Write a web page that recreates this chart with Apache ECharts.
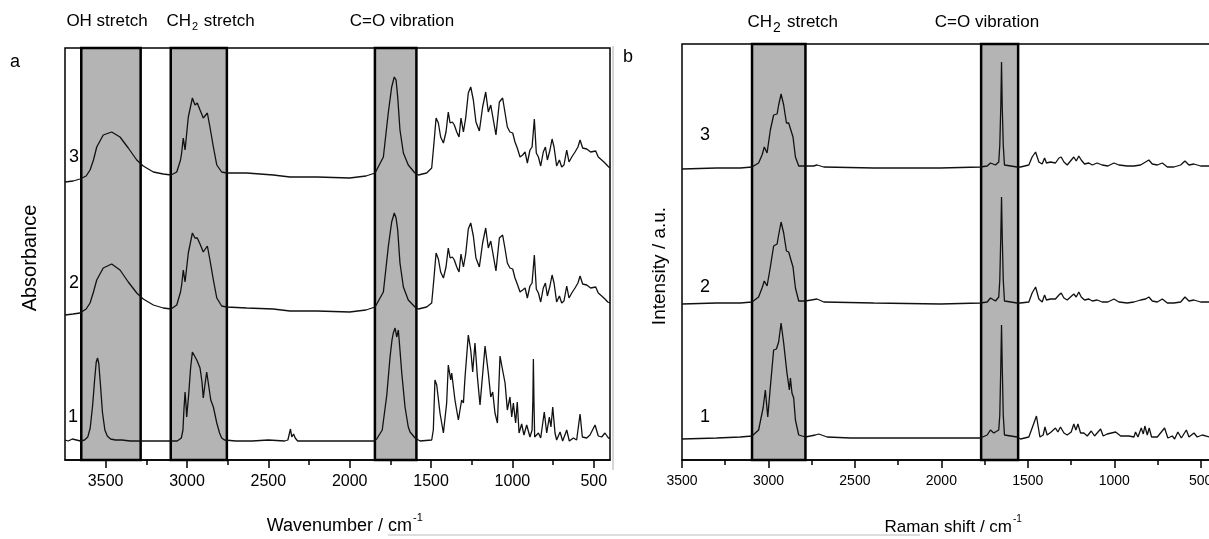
<!DOCTYPE html>
<html>
<head>
<meta charset="utf-8">
<script src="https://cdn.jsdelivr.net/npm/echarts@6/dist/echarts.min.js"></script>
<style>
  html, body { margin: 0; padding: 0; background: #fff; }
  #chart { width: 1209px; height: 539px; }
</style>
</head>
<body>
<div id="chart"></div>
<script>
// ---- data: [wavenumber (cm-1), offset signal (a.u.)] ----
var irTrace1 = [[3750,20],[3730,19],[3705,21],[3680,20],[3655,19],[3630,20],[3610,23],[3595,32],[3580,55],[3568,80],[3558,98],[3550,102],[3542,96],[3532,75],[3520,48],[3505,30],[3490,24],[3470,21],[3440,20],[3400,20],[3350,19],[3300,19],[3200,19],[3120,19],[3060,19],[3035,22],[3025,30],[3019,50],[3012,68],[3006,55],[3002,43],[2990,65],[2978,92],[2967,108],[2955,107],[2940,100],[2920,92],[2908,78],[2900,62],[2890,75],[2879,88],[2869,87],[2854,60],[2838,53],[2817,37],[2800,27],[2787,22],[2770,20],[2700,19],[2600,19],[2500,20],[2400,19],[2380,20],[2370,27],[2364,31],[2356,23],[2345,26],[2335,22],[2320,19],[2200,19],[2000,19],[1900,19],[1850,19],[1834,21],[1800,30],[1772,65],[1752,103],[1740,120],[1732,127],[1721,132],[1711,123],[1701,130],[1691,110],[1680,87],[1660,53],[1640,33],[1629,28],[1598,22],[1568,19],[1496,20],[1486,30],[1476,80],[1472,82],[1465,75],[1455,73],[1445,47],[1424,27],[1404,57],[1394,95],[1379,80],[1373,87],[1353,60],[1332,40],[1312,60],[1301,57],[1291,83],[1271,125],[1256,110],[1244,88],[1230,117],[1215,83],[1199,55],[1168,114],[1148,87],[1133,63],[1121,68],[1107,47],[1092,37],[1076,104],[1066,95],[1056,93],[1045,77],[1031,50],[1015,63],[1004,43],[994,57],[980,37],[970,58],[959,27],[943,36],[929,25],[912,35],[892,23],[879,30],[874,60],[871,101],[867,55],[863,23],[840,27],[826,22],[804,48],[789,27],[773,43],[763,33],[752,53],[738,27],[728,20],[707,28],[691,19],[666,30],[650,19],[625,22],[605,20],[584,46],[570,23],[543,22],[523,25],[492,35],[472,24],[451,23],[431,27],[410,22],[400,22]];

var irTrace2 = [[3750,145],[3700,146],[3658,147],[3620,151],[3596,157],[3575,168],[3555,180],[3515,192],[3463,196],[3412,190],[3361,178],[3309,167],[3269,161],[3207,155],[3146,152],[3098,151],[3063,155],[3040,168],[3033,175],[3023,190],[3012,178],[2992,207],[2967,227],[2951,222],[2937,222],[2920,216],[2900,208],[2875,214],[2859,200],[2838,180],[2817,162],[2787,154],[2756,153],[2633,152],[2470,151],[2367,149],[2200,149],[2000,148],[1900,150],[1844,153],[1793,168],[1763,213],[1742,238],[1726,247],[1715,242],[1705,230],[1691,197],[1670,173],[1640,160],[1599,153],[1578,151],[1527,153],[1496,157],[1482,182],[1469,207],[1455,201],[1441,188],[1424,182],[1408,193],[1394,212],[1383,202],[1369,203],[1357,200],[1342,193],[1328,188],[1316,206],[1301,193],[1287,206],[1271,231],[1256,237],[1240,224],[1224,202],[1203,193],[1183,217],[1164,232],[1148,212],[1133,219],[1117,204],[1101,189],[1080,222],[1070,224],[1060,225],[1045,211],[1031,197],[1015,192],[998,191],[984,182],[970,176],[953,168],[937,170],[922,172],[908,162],[892,174],[879,177],[865,205],[853,171],[840,167],[826,158],[810,172],[797,177],[785,164],[769,174],[756,185],[744,177],[728,158],[711,164],[697,157],[683,159],[666,174],[652,162],[635,167],[615,172],[597,177],[584,184],[568,176],[543,175],[519,172],[488,173],[472,167],[451,164],[431,161],[414,158],[400,157]];

var irTrace3 = [[3750,278],[3700,279],[3658,281],[3620,284],[3596,290],[3575,300],[3555,313],[3515,325],[3463,328],[3412,323],[3361,312],[3309,300],[3269,294],[3207,288],[3146,286],[3098,285],[3063,288],[3040,300],[3033,307],[3023,322],[3012,310],[2992,343],[2967,362],[2951,355],[2937,357],[2920,350],[2900,342],[2875,347],[2859,333],[2838,313],[2817,295],[2787,288],[2756,287],[2633,287],[2470,285],[2367,283],[2200,283],[2000,282],[1900,284],[1844,287],[1793,303],[1763,347],[1742,373],[1726,383],[1715,380],[1705,363],[1691,330],[1670,307],[1640,295],[1599,287],[1578,285],[1527,287],[1496,292],[1482,317],[1469,342],[1455,337],[1441,323],[1424,317],[1408,328],[1394,348],[1383,337],[1369,338],[1357,335],[1342,328],[1328,323],[1316,342],[1301,328],[1287,342],[1271,367],[1256,373],[1240,360],[1224,338],[1203,329],[1183,353],[1164,368],[1148,348],[1133,355],[1117,340],[1101,325],[1080,358],[1070,360],[1060,362],[1045,347],[1031,333],[1015,328],[998,327],[984,318],[970,312],[953,303],[937,305],[922,308],[908,297],[892,310],[879,313],[865,341],[853,307],[840,303],[826,294],[810,308],[797,313],[785,300],[769,310],[756,321],[744,313],[728,294],[711,300],[697,293],[683,295],[666,310],[652,298],[635,303],[615,308],[597,313],[584,320],[568,312],[543,311],[519,308],[488,309],[472,303],[451,300],[431,297],[414,294],[400,292]];

var ramanTrace1 = [[3500,21],[3300,22],[3163,23],[3095,24],[3057,30],[3031,52],[3018,70],[3004,43],[2989,73],[2970,110],[2954,111],[2941,118],[2927,137],[2912,117],[2893,87],[2879,70],[2873,82],[2864,67],[2854,62],[2844,40],[2825,25],[2786,23],[2729,25],[2709,26],[2661,23],[2526,22],[2198,22],[1774,22],[1735,25],[1716,30],[1697,27],[1668,30],[1662,45],[1656,95],[1652,135],[1648,95],[1642,45],[1635,25],[1562,23],[1542,21],[1494,23],[1475,32],[1450,44],[1430,23],[1411,25],[1401,33],[1388,25],[1365,28],[1340,32],[1326,28],[1311,33],[1291,27],[1272,25],[1249,28],[1234,36],[1222,30],[1210,36],[1195,27],[1176,27],[1156,24],[1133,29],[1114,24],[1079,31],[1064,24],[1041,26],[992,28],[963,24],[915,24],[886,23],[877,28],[863,23],[844,32],[832,26],[823,34],[809,25],[798,32],[784,23],[751,23],[709,32],[690,22],[664,24],[651,21],[632,28],[612,22],[583,30],[568,23],[539,27],[520,23],[491,25],[448,23],[400,23]];

var ramanTrace2 = [[3500,156],[3300,157],[3163,157],[3095,158],[3057,163],[3037,172],[3024,179],[3008,174],[2989,193],[2970,214],[2960,212],[2950,216],[2941,225],[2927,238],[2912,227],[2896,209],[2883,208],[2873,207],[2858,193],[2844,172],[2825,159],[2786,159],[2719,161],[2680,158],[2391,157],[2005,156],[1774,157],[1735,158],[1716,162],[1687,159],[1668,163],[1662,180],[1656,225],[1652,263],[1648,225],[1642,180],[1635,159],[1562,157],[1542,157],[1494,158],[1475,167],[1455,173],[1436,161],[1417,158],[1403,165],[1392,160],[1369,161],[1340,161],[1320,165],[1307,167],[1291,162],[1272,160],[1253,163],[1234,166],[1220,163],[1205,168],[1191,163],[1172,160],[1147,161],[1127,159],[1099,160],[1070,158],[1037,158],[1002,161],[973,158],[925,157],[886,158],[848,160],[819,161],[800,163],[780,159],[751,158],[722,161],[693,157],[655,157],[616,158],[591,163],[568,159],[539,160],[501,158],[448,158],[400,158]];

var ramanTrace3 = [[3500,291],[3300,292],[3163,292],[3095,293],[3057,297],[3037,305],[3024,313],[3008,307],[2989,330],[2970,345],[2960,343],[2950,346],[2941,355],[2927,366],[2912,355],[2896,337],[2883,337],[2873,339],[2858,323],[2844,303],[2825,294],[2786,294],[2740,294],[2719,295],[2680,293],[2391,292],[2005,292],[1774,293],[1735,294],[1716,297],[1687,295],[1668,298],[1662,315],[1656,355],[1652,398],[1648,355],[1642,315],[1635,295],[1562,293],[1542,293],[1494,295],[1475,303],[1455,308],[1436,298],[1417,296],[1403,302],[1392,297],[1369,298],[1340,297],[1320,302],[1307,303],[1291,298],[1272,295],[1253,299],[1234,303],[1220,299],[1205,304],[1191,300],[1172,296],[1147,297],[1127,295],[1099,297],[1070,295],[1037,294],[1002,297],[973,295],[925,294],[886,294],[848,295],[819,298],[800,300],[780,296],[751,295],[722,297],[693,293],[655,293],[616,295],[591,299],[568,295],[539,296],[501,294],[448,294],[400,294]];

// shaded regions (cm-1)
var irBands = [[3650, 3285], [3100, 2755], [1845, 1590]];
var ramanBands = [[3095, 2786], [1770, 1556]];

// axis ticks
var majorTicks = [3500, 3000, 2500, 2000, 1500, 1000, 500];
var minorTicks = [3250, 2750, 2250, 1750, 1250, 750];

var FONT = '"Liberation Sans", Arial, sans-serif';

var myChart = echarts.init(document.getElementById('chart'));

function bandArea(bands) {
    return {
        silent: true,
        itemStyle: { color: '#b4b4b4', borderColor: '#000', borderWidth: 2.5 },
        data: bands.map(function (b) { return [{ xAxis: b[0] }, { xAxis: b[1] }]; })
    };
}

function trace(data, xi, yi, area) {
    var s = {
        type: 'line',
        data: data,
        xAxisIndex: xi,
        yAxisIndex: yi,
        showSymbol: false,
        symbol: 'none',
        silent: true,
        z: 3,
        lineStyle: { color: '#111', width: 1.3 }
    };
    if (area) s.markArea = area;
    return s;
}

function majorAxis(grid, min, max, fs) {
    return {
        gridIndex: grid, type: 'value', inverse: true, min: min, max: max,
        position: 'bottom',
        axisLine: { show: true, onZero: false, lineStyle: { color: '#000', width: 1.5 } },
        axisTick: { show: true, customValues: majorTicks, length: 8, lineStyle: { color: '#000', width: 1.5 } },
        axisLabel: {
            customValues: majorTicks, fontSize: fs, fontFamily: FONT, color: '#000', margin: 14,
            hideOverlap: false,
            formatter: function (v) { return String(v); }
        },
        splitLine: { show: false }
    };
}

function minorAxis(grid, min, max) {
    return {
        gridIndex: grid, type: 'value', inverse: true, min: min, max: max,
        position: 'bottom',
        axisLine: { show: false },
        axisTick: { show: true, customValues: minorTicks, length: 5, lineStyle: { color: '#000', width: 1.5 } },
        axisLabel: { show: false },
        splitLine: { show: false }
    };
}

function txt(s, x, y, size, extra) {
    var e = {
        type: 'text', x: x, y: y, silent: true,
        style: { text: s, fontSize: size, fontFamily: FONT, fill: '#000', align: 'center', verticalAlign: 'middle' }
    };
    if (extra) {
        for (var k in extra) e.style[k] = extra[k];
    }
    return e;
}

var option = {
    animation: false,
    backgroundColor: '#fff',
    grid: [
        { left: 65, top: 48, width: 545, height: 412, show: true, borderColor: '#000', borderWidth: 1.5,
          containLabel: false, outerBoundsMode: 'none' },
        { left: 682, top: 44, width: 536, height: 416, show: true, borderColor: '#000', borderWidth: 1.5,
          containLabel: false, outerBoundsMode: 'none' }
    ],
    xAxis: [
        majorAxis(0, 400, 3750, 16),
        minorAxis(0, 400, 3750),
        majorAxis(1, 400, 3500, 14),
        minorAxis(1, 400, 3500)
    ],
    yAxis: [
        { gridIndex: 0, type: 'value', min: 0, max: 412, show: false },
        { gridIndex: 1, type: 'value', min: 0, max: 416, show: false }
    ],
    series: [
        trace(irTrace1, 0, 0, bandArea(irBands)),
        trace(irTrace2, 0, 0),
        trace(irTrace3, 0, 0),
        trace(ramanTrace1, 2, 1, bandArea(ramanBands)),
        trace(ramanTrace2, 2, 1),
        trace(ramanTrace3, 2, 1)
    ],
    graphic: {
        elements: [
            // panel a
            txt('a', 15, 62, 18),
            txt('OH stretch', 107, 21, 17),
            txt('CH', 191, 21, 17, { align: 'right' }),
            txt('2', 195, 27, 11),
            txt(' stretch', 199, 21, 17, { align: 'left' }),
            txt('C=O vibration', 402, 21, 17),
            txt('3', 74, 157, 18),
            txt('2', 74, 283, 18),
            txt('1', 73, 417, 18),
            {
                type: 'text', x: 30, y: 258, rotation: Math.PI / 2, silent: true,
                style: { text: 'Absorbance', fontSize: 20, fontFamily: FONT, fill: '#000', align: 'center', verticalAlign: 'middle' }
            },
            txt('Wavenumber / cm', 412, 526, 18, { align: 'right' }),
            txt('-1', 413, 518, 11, { align: 'left' }),
            // panel b
            txt('b', 628, 57, 18),
            txt('CH', 772, 22, 17, { align: 'right' }),
            txt('2', 777, 28, 14),
            txt('stretch', 787, 22, 17, { align: 'left' }),
            txt('C=O vibration', 987, 22, 17),
            txt('3', 705, 135, 18),
            txt('2', 705, 287, 18),
            txt('1', 705, 417, 18),
            {
                type: 'text', x: 660, y: 266, rotation: Math.PI / 2, silent: true,
                style: { text: 'Intensity / a.u.', fontSize: 19, fontFamily: FONT, fill: '#000', align: 'center', verticalAlign: 'middle' }
            },
            txt('Raman shift / cm', 1012, 527, 17, { align: 'right' }),
            txt('-1', 1013, 519, 10, { align: 'left' }),
            // scan artefacts of the printed figure
            { type: 'line', silent: true, shape: { x1: 613, y1: 46, x2: 613, y2: 470 }, style: { stroke: '#c8c8c8', lineWidth: 1.5 } },
            { type: 'line', silent: true, shape: { x1: 388, y1: 535, x2: 920, y2: 535 }, style: { stroke: '#d2d2d2', lineWidth: 1.5 } }
        ]
    }
};

myChart.setOption(option);
</script>
</body>
</html>
